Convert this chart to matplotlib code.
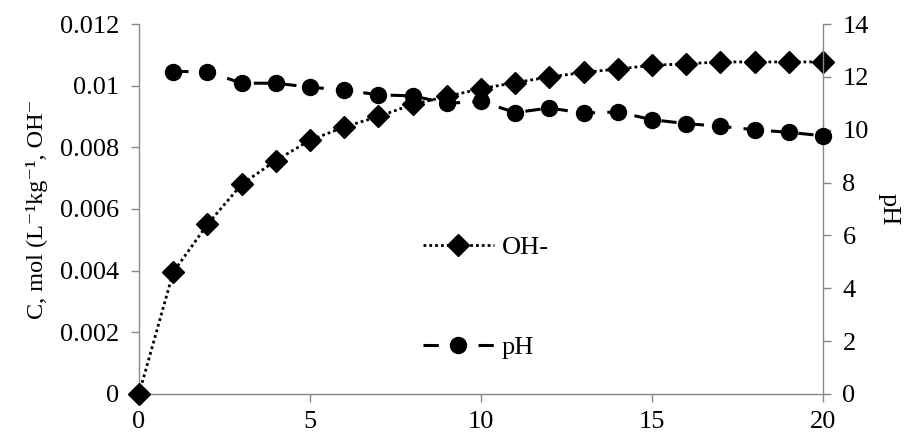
import matplotlib
matplotlib.use("Agg")
import matplotlib.pyplot as plt

plt.rcParams['font.family'] = ['Liberation Serif', 'DejaVu Serif']

time_oh = [0, 1, 2, 3, 4, 5, 6, 7, 8, 9, 10, 11, 12, 13, 14, 15, 16, 17, 18, 19, 20]
oh_conc = [0.0, 0.00395, 0.0055, 0.0068, 0.00757, 0.00823, 0.00866, 0.0090, 0.00939, 0.00965,
           0.0099, 0.0101, 0.01028, 0.01043, 0.01054, 0.01066, 0.01071, 0.01077, 0.01077, 0.01077, 0.01077]
time_ph = [1, 2, 3, 4, 5, 6, 7, 8, 9, 10, 11, 12, 13, 14, 15, 16, 17, 18, 19, 20]
ph_vals = [12.2, 12.2, 11.76, 11.76, 11.61, 11.5, 11.32, 11.28, 11.0, 11.07,
           10.65, 10.82, 10.63, 10.67, 10.38, 10.23, 10.13, 10.0, 9.9, 9.77]

left_ticks = [0, 0.002, 0.004, 0.006, 0.008, 0.01, 0.012]
left_labels = ['0', '0.002', '0.004', '0.006', '0.008', '0.01', '0.012']
right_ticks = [0, 2, 4, 6, 8, 10, 12, 14]
x_ticks = [0, 5, 10, 15, 20]

fig = plt.figure(figsize=(9.05, 4.38), dpi=100)
ax = fig.add_axes([0.1536, 0.1005, 0.9094 - 0.1536, 0.9452 - 0.1005])
ax2 = ax.twinx()

fs = 19
grey = '#888888'

l1, = ax.plot(time_oh, oh_conc, color='black', linestyle=(0, (1, 1.1)), linewidth=2.0,
              marker='D', markersize=11, label='OH-', clip_on=False, zorder=3)
l2, = ax2.plot(time_ph, ph_vals, color='black', linestyle=(0, (5, 4)), linewidth=2.2,
               marker='o', markersize=11.5, label='pH', clip_on=False, zorder=3)

ax.set_xlim(0, 20)
ax.set_ylim(0, 0.012)
ax2.set_ylim(0, 14)
ax.set_xticks(x_ticks)
ax.set_xticklabels([str(t) for t in x_ticks])
ax.set_yticks(left_ticks)
ax.set_yticklabels(left_labels)
ax2.set_yticks(right_ticks)
ax2.set_yticklabels([str(t) for t in right_ticks])

for a in (ax, ax2):
    a.spines['top'].set_visible(False)
    for s in ('left', 'right', 'bottom'):
        a.spines[s].set_color(grey)
        a.spines[s].set_linewidth(1.0)
    a.tick_params(axis='both', colors=grey, labelcolor='black', labelsize=fs,
                  length=6, width=1.0, direction='out')
ax.tick_params(axis='y', pad=8)
ax2.tick_params(axis='y', pad=8)
ax.tick_params(axis='x', pad=6)
ax.spines['right'].set_visible(False)
ax2.spines['left'].set_visible(False)
ax2.spines['bottom'].set_visible(False)

ax.set_ylabel('C, mol (L\u207b\u00b9kg\u207b\u00b9, OH\u207b', fontsize=17.5, labelpad=9)
ax2.set_ylabel('pH', fontsize=fs, rotation=-90, labelpad=22)

leg = ax2.legend([l1, l2], ['OH-', 'pH'], loc='center left', bbox_to_anchor=(0.38, 0.262),
                 frameon=False, fontsize=fs, handlelength=2.7, labelspacing=2.9,
                 handletextpad=0.3)

fig.savefig('out.png', dpi=100)
